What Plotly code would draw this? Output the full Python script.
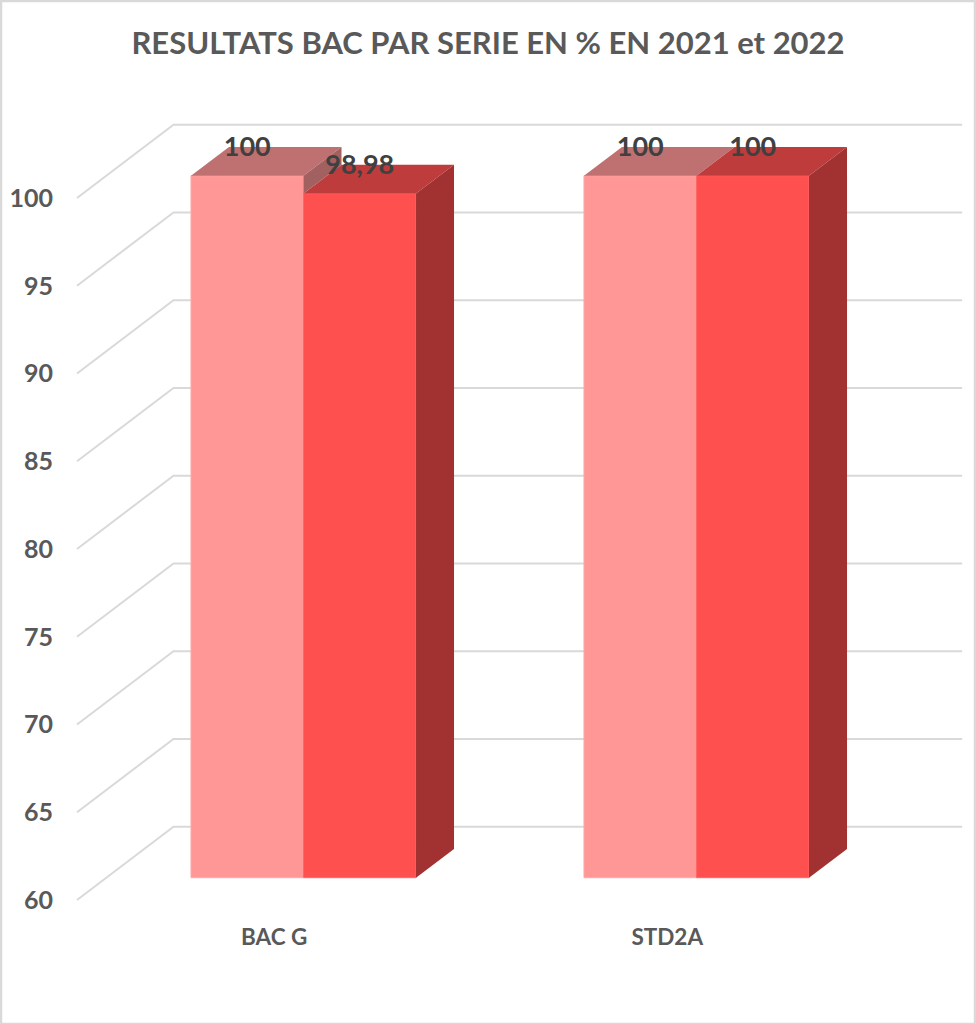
# %%
import plotly.graph_objects as go

# %%
categories = ['BAC G', 'STD2A']
series_names = ['2021', '2022']
values_2021 = [100, 100]
values_2022 = [98.98, 100]
y_ticks = [60, 65, 70, 75, 80, 85, 90, 95, 100]
title = 'RESULTATS BAC PAR SERIE EN % EN 2021 et 2022'

front_colors = ['#FF9797', '#FF5050']
edge_colors = ['#FFA8A8', '#FF6868']
top_colors = ['#BF7171', '#BF3C3C']
side_colors = ['#A36060', '#A23131']
grid_color = '#D9D9D9'
text_color = '#595959'
label_color = '#404040'
font = 'Lato'

# the fake 3D view: one category = 393px, one y unit = 17.55px
base = 60
bar_width = 0.2863
plane_dy = 1.27      # bars stand this far above the axis plane
bar_dx, bar_dy = 0.0967, 1.64       # depth of a bar
wall_dx, wall_dy = 0.2455, 4.18     # depth of the back wall
wall_end = 1.676
grid_start = -0.5763
label_shift = 0.0745
value_label_drop = 0.13


def fmt(v):
    return str(v).replace('.', ',')


# %%
fig = go.Figure()
all_values = [values_2021, values_2022]

for s, vals in enumerate(all_values):
    fig.add_trace(go.Bar(x=list(range(len(categories))), y=[v - base for v in vals], base=base + plane_dy,
                         name=series_names[s], width=bar_width, offset=(s - 1) * bar_width,
                         marker=dict(color=front_colors[s], line=dict(width=1, color=edge_colors[s])),
                         hoverinfo='skip', showlegend=False))

# top and side faces, scatter layer sits above the bars
for s, vals in enumerate(all_values):
    for i, v in enumerate(vals):
        x0 = i + (s - 1) * bar_width
        x1 = x0 + bar_width
        top = v + plane_dy
        fig.add_trace(go.Scatter(x=[x0, x0 + bar_dx, x1 + bar_dx, x1, x0],
                                 y=[top, top + bar_dy, top + bar_dy, top, top],
                                 mode='lines', fill='toself', fillcolor=top_colors[s],
                                 line=dict(width=0), hoverinfo='skip', showlegend=False))
        # only the part of the side that the next bar does not hide
        low = all_values[s + 1][i] + plane_dy if s + 1 < len(all_values) else base + plane_dy
        fig.add_trace(go.Scatter(x=[x1, x1 + bar_dx, x1 + bar_dx, x1, x1],
                                 y=[top, top + bar_dy, low + bar_dy, low, top],
                                 mode='lines', fill='toself', fillcolor=side_colors[s],
                                 line=dict(width=0), hoverinfo='skip', showlegend=False))

# value labels on the top faces
for s, vals in enumerate(all_values):
    fig.add_trace(go.Scatter(x=[i + (s - 0.5) * bar_width for i in range(len(vals))],
                             y=[v + plane_dy + bar_dy - value_label_drop for v in vals],
                             mode='text', text=[fmt(v) for v in vals], textposition='middle center',
                             textfont=dict(family=font, size=27, color=label_color, weight=700),
                             hoverinfo='skip', showlegend=False))

# grid goes under the bars, so shapes and not scatter
shapes = []
for t in y_ticks:
    path = f'M {grid_start},{t} L {grid_start + wall_dx},{t + wall_dy} L {wall_end},{t + wall_dy}'
    shapes.append(dict(type='path', path=path, xref='x', yref='y', layer='below',
                       line=dict(color=grid_color, width=2)))

# picture frame
shapes.append(dict(type='rect', xref='paper', yref='paper', layer='below',
                   x0=-53 / 922, x1=1 - 1 / 922, y0=-103 / 921, y1=1 - 1 / 921,
                   line=dict(color=grid_color, width=2.5)))

fig.update_layout(
    width=976, height=1024,
    margin=dict(l=54, r=0, t=0, b=103),
    paper_bgcolor='white', plot_bgcolor='rgba(0,0,0,0)',
    shapes=shapes, showlegend=False, barmode='overlay',
    title=dict(text=title, x=0.5, xanchor='center', y=0.958, yanchor='middle',
               font=dict(family=font, size=31, color=text_color, weight=700)),
    xaxis=dict(range=[(54 - 303.5) / 393, (976 - 303.5) / 393], showgrid=False, zeroline=False,
               showline=False, ticks='', tickmode='array',
               tickvals=[i - label_shift for i in range(len(categories))], ticktext=categories,
               tickfont=dict(family=font, size=22.5, color=text_color, weight=700)),
    yaxis=dict(range=[base - 21 / 17.55, base + 900 / 17.55], showgrid=False, zeroline=False,
               showline=False, ticks='', tickmode='array', tickvals=y_ticks,
               ticktext=[str(t) for t in y_ticks],
               tickfont=dict(family=font, size=25, color=text_color, weight=700)),
)

fig.write_html("out.html", config={'displayModeBar': False}, post_script="document.body.style.margin='0';")
